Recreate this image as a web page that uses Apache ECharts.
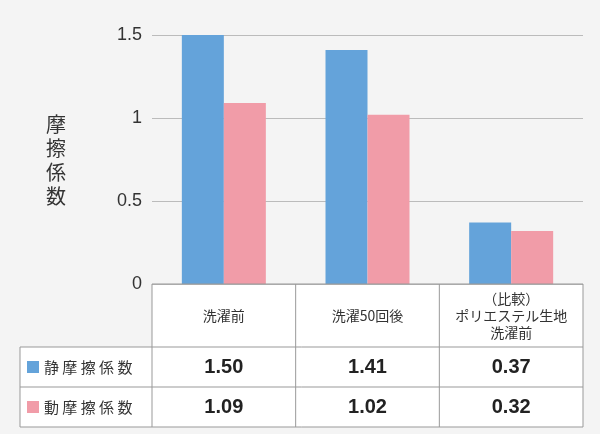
<!DOCTYPE html><html><head><meta charset="utf-8"><script src="https://cdn.jsdelivr.net/npm/echarts@6/dist/echarts.min.js"></script>
<style>html,body{margin:0;background:#f4f4f4}#c{width:600px;height:434px}</style></head><body><div id="c"></div><script>
const categories=['洗濯前','洗濯50回後','（比較）\nポリエステル生地\n洗濯前'];
const staticVals=[1.50,1.41,0.37];
const dynamicVals=[1.09,1.02,0.32];
const seriesNames=['静摩擦係数','動摩擦係数'];
const colors=['#64a3da','#f19ca8'];
const F='"Noto Sans CJK JP",sans-serif';
const chart=echarts.init(document.getElementById('c'));
const L=152,R=583,T=35,B=284,rowH=40,hdrH=63,c0=20;
const cw=(R-L)/3;
const g=[];
const line=(x1,y1,x2,y2)=>g.push({type:'line',shape:{x1,y1,x2,y2},style:{stroke:'#999',lineWidth:1},z:10});
g.push({type:'rect',shape:{x:L,y:B,width:R-L,height:hdrH},style:{fill:'#fff'}});
g.push({type:'rect',shape:{x:c0,y:B+hdrH,width:R-c0,height:2*rowH},style:{fill:'#fff'}});
line(L,B,R,B);line(c0,B+hdrH,R,B+hdrH);line(c0,B+hdrH+rowH,R,B+hdrH+rowH);line(c0,B+hdrH+2*rowH,R,B+hdrH+2*rowH);
line(c0,B+hdrH,c0,B+hdrH+2*rowH);
for(let i=0;i<=3;i++)line(L+i*cw,B,L+i*cw,B+hdrH+2*rowH);
categories.forEach((c,i)=>g.push({type:'text',x:L+cw*(i+.5),y:B+hdrH/2,style:{text:c,fill:'#333',font:'14px '+F,align:'center',verticalAlign:'middle',lineHeight:17}}));
[staticVals,dynamicVals].forEach((arr,r)=>{
 const y=B+hdrH+rowH*(r+.5);
 g.push({type:'rect',shape:{x:27,y:y-6,width:12,height:12},style:{fill:colors[r]}});
 g.push({type:'text',x:44,y:y,style:{text:seriesNames[r].split('').join(' '),fill:'#333',font:'15px '+F,verticalAlign:'middle'}});
 arr.forEach((v,i)=>g.push({type:'text',x:L+cw*(i+.5),y:y,style:{text:v.toFixed(2),fill:'#222',font:'bold 20px "Liberation Sans",sans-serif',align:'center',verticalAlign:'middle'}}));
});
g.push({type:'text',x:56,y:160,style:{text:'摩\n擦\n係\n数',fill:'#333',font:'20px '+F,align:'center',verticalAlign:'middle',lineHeight:24}});
chart.setOption({
 backgroundColor:'#f4f4f4',animation:false,
 grid:{left:L,right:600-R,top:T,bottom:434-B},
 xAxis:{type:'category',data:categories,axisLine:{show:false},axisTick:{show:false},axisLabel:{show:false}},
 yAxis:{type:'value',min:0,max:1.5,interval:0.5,axisLabel:{fontSize:18,color:'#333',fontFamily:'"Liberation Sans",sans-serif',margin:10},splitLine:{lineStyle:{color:'#bbb'}}},
 series:[{type:'bar',name:seriesNames[0],data:staticVals,itemStyle:{color:colors[0]},barWidth:42,barGap:'0%'},
 {type:'bar',name:seriesNames[1],data:dynamicVals,itemStyle:{color:colors[1]},barWidth:42}],
 graphic:g
});
</script></body></html>
